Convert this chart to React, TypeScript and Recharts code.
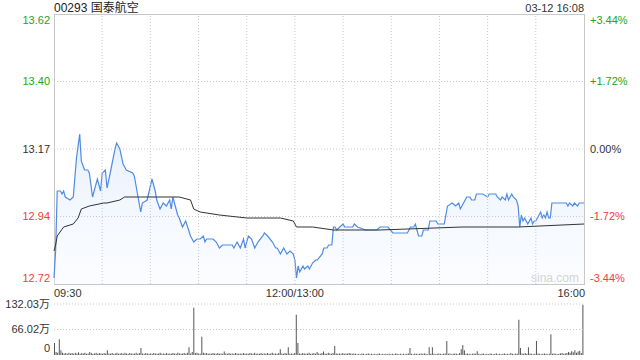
import React from "react";
import {
  ComposedChart,
  BarChart,
  Bar,
  Area,
  Line,
  XAxis,
  YAxis,
  ReferenceLine,
} from "recharts";

// minute index (0 = 09:30, 150 = 12:00/13:00, 330 = 16:00)
const priceTimes = [
  0, 1, 2, 4, 5, 6, 7, 10, 12, 14, 16, 17, 19, 21, 22, 24, 27, 29, 30, 32, 33, 35, 38, 39, 41, 43, 45, 49, 50, 52,
  54, 55, 58, 61, 63, 64, 66, 68, 70, 72, 73, 74, 77, 78, 80, 82, 85, 87, 89, 91, 93, 94, 95, 97, 99, 101, 103, 105,
  111, 112, 114, 116, 118, 119, 121, 123, 125, 127, 130, 131, 133, 136, 138, 139, 141, 143, 144, 145, 147, 149, 150,
  151, 152, 153, 155, 156, 158, 159, 161, 163, 164, 167, 168, 170, 171, 173, 174, 175, 176, 178, 180, 181, 186, 187,
  189, 194, 201, 203, 205, 208, 211, 220, 222, 224, 225, 226, 227, 229, 230, 233, 234, 238, 239, 243, 245, 248, 250,
  252, 253, 254, 256, 257, 259, 260, 262, 263, 267, 270, 271, 275, 276, 278, 279, 281, 282, 283, 285, 286, 288, 289,
  290, 291, 292, 293, 295, 296, 297, 298, 299, 300, 301, 302, 303, 304, 305, 306, 307, 308, 309, 310, 319, 320, 321,
  323, 324, 326, 327, 330,
];
const priceValues = [
  12.74, 12.83, 13.03, 13.03, 13.02, 13.03, 13.01, 13.0, 13.01, 13.14, 13.22, 13.13, 13.1, 13.1, 13.09, 13.01, 13.07,
  13.03, 13.09, 13.1, 13.04, 13.09, 13.17, 13.19, 13.17, 13.12, 13.1, 13.09, 13.08, 13.02,
  12.96, 12.99, 13.0, 13.07, 13.03, 13.0, 12.97, 12.99, 12.98, 13.0, 12.97, 13.01, 12.95, 12.94, 12.91, 12.93, 12.88,
  12.86, 12.87, 12.87, 12.88, 12.86, 12.87, 12.87, 12.87, 12.86, 12.84, 12.85,
  12.85, 12.84, 12.86, 12.84, 12.87, 12.84, 12.88, 12.87, 12.84, 12.86, 12.88, 12.89, 12.88, 12.86, 12.84, 12.84,
  12.82, 12.84, 12.83, 12.82, 12.83, 12.82, 12.8,
  12.74, 12.78, 12.76, 12.78, 12.77, 12.78, 12.77, 12.79, 12.8, 12.8, 12.82, 12.84, 12.84, 12.85, 12.85, 12.91,
  12.91, 12.9, 12.91, 12.92, 12.91, 12.91, 12.92,
  12.91, 12.9, 12.9, 12.91, 12.91, 12.91, 12.89, 12.89, 12.91, 12.91, 12.92, 12.9, 12.88, 12.88, 12.9, 12.9, 12.93,
  12.93, 12.92, 12.92, 12.98, 12.99, 12.98,
  12.99, 12.97, 12.98, 13.0, 13.01, 13.01, 13.0, 13.0, 13.02, 13.02, 13.01, 13.02, 13.02, 13.01, 13.0, 13.01, 13.0,
  13.02, 13.0, 13.02, 13.01, 13.0, 12.98,
  12.91, 12.95, 12.93, 12.94, 12.92, 12.93, 12.94, 12.92, 12.93, 12.93, 12.94, 12.95, 12.96, 12.94, 12.95, 12.94,
  12.96, 12.94, 12.94, 12.99, 12.99, 12.98, 12.99,
  12.98, 12.99, 12.98, 12.99, 12.99,
];

const avgTimes = [0, 1, 2, 6, 12, 15, 17, 22, 31, 33, 41, 44, 54, 78, 85, 87, 91, 103, 120, 141, 149, 151, 161, 174, 203, 254, 289, 330];
const avgValues = [
  12.83, 12.85, 12.88, 12.91, 12.92, 12.94, 12.97, 12.98, 12.99, 12.99, 13.0, 13.01, 13.01, 13.01, 13.0, 12.97,
  12.96, 12.95, 12.94, 12.94, 12.93, 12.91, 12.91, 12.9, 12.9, 12.91, 12.91, 12.92,
];

// volume per minute, in 万
const volumeValues = [
  31, 8, 6, 41, 12, 6, 4, 5, 3, 6,
  4, 5, 3, 6, 4, 7, 3, 5, 4, 6,
  3, 4, 8, 5, 3, 4, 6, 3, 5, 4,
  3, 5, 4, 12, 4, 3, 5, 3, 4, 6,
  3, 4, 5, 3, 6, 4, 3, 5, 4, 3,
  4, 6, 3, 5, 18, 4, 3, 5, 4, 3,
  4, 3, 5, 4, 3, 4, 6, 3, 4, 3,
  5, 3, 4, 3, 5, 4, 3, 6, 4, 3,
  4, 5, 3, 6, 20, 4, 8, 122, 5, 6,
  4, 3, 47, 6, 4, 5, 3, 4, 3, 5,
  4, 3, 5, 3, 4, 3, 9, 4, 3, 5,
  3, 4, 3, 5, 4, 3, 4, 3, 5, 3,
  4, 3, 5, 4, 3, 6, 3, 4, 3, 5,
  3, 4, 3, 5, 3, 4, 6, 3, 4, 3,
  5, 15, 4, 3, 5, 4, 20, 3, 4, 3,
  5, 104, 31, 4, 3, 5, 4, 3, 4, 6,
  3, 4, 5, 3, 8, 4, 3, 5, 9, 4,
  3, 6, 4, 3, 5, 23, 4, 3, 4, 3,
  5, 3, 4, 3, 5, 4, 3, 4, 3, 2,
  3, 2, 4, 3, 2, 3, 4, 2, 3, 2,
  3, 2, 3, 4, 2, 3, 2, 3, 2, 3,
  2, 3, 2, 4, 3, 2, 3, 2, 3, 2,
  3, 4, 18, 3, 2, 4, 3, 2, 3, 4,
  3, 4, 3, 2, 20, 3, 20, 3, 2, 3,
  4, 3, 2, 3, 4, 36, 3, 4, 2, 3,
  4, 3, 2, 5, 15, 26, 12, 3, 4, 3,
  2, 3, 4, 3, 10, 3, 2, 3, 4, 2,
  3, 2, 4, 3, 2, 3, 4, 2, 3, 2,
  3, 4, 2, 3, 2, 5, 3, 2, 4, 3,
  91, 18, 4, 3, 5, 3, 20, 4, 3, 2,
  3, 36, 4, 3, 2, 3, 4, 3, 2, 3,
  54, 3, 4, 3, 2, 3, 4, 5, 3, 4,
  5, 8, 6, 10, 7, 12, 6, 9, 11, 5,
  130,
];

const priceTicks = [12.72, 12.945, 13.17, 13.395, 13.62];
const priceTickLabels = ["12.72", "12.94", "13.17", "13.40", "13.62"];
const pctTicks = [-3.44, -1.72, 0, 1.72, 3.44];
const pctTickLabels = ["-3.44%", "-1.72%", "0.00%", "+1.72%", "+3.44%"];
const tickColors = ["#f03c3c", "#f03c3c", "#333333", "#1aa51a", "#1aa51a"];
const timeTicks = [0, 150, 330];
const timeTickLabels = ["09:30", "12:00/13:00", "16:00"];
const gridMinutes = [30, 60, 90, 120, 150, 180, 210, 240, 270, 300];
const volTicks = [0, 66.02, 132.03];
const volTickLabels = ["0", "66.02万", "132.03万"];

const title = "00293 国泰航空";
const stamp = "03-12 16:08";
const watermark = "sina.com";

type Row = { t: number; price?: number; avg?: number };
const rowMap = new Map<number, Row>();
priceTimes.forEach((t, i) => {
  const r = rowMap.get(t) || { t };
  r.price = priceValues[i];
  rowMap.set(t, r);
});
avgTimes.forEach((t, i) => {
  const r = rowMap.get(t) || { t };
  r.avg = avgValues[i];
  rowMap.set(t, r);
});
const mainData = Array.from(rowMap.values()).sort((a, b) => a.t - b.t);
const volData = volumeValues.map((v, i) => ({ m: i, v }));

const FONT = "Arial, 'Liberation Sans', 'Noto Sans CJK SC', sans-serif";

const LeftTick = (props: any) => {
  const { y, payload } = props;
  const idx = priceTicks.indexOf(payload.value);
  const dy = idx === 0 ? -6 : idx === priceTicks.length - 1 ? 6 : 0;
  return (
    <text x={50} y={y + dy} dy="0.35em" textAnchor="end" fontSize={11} fontFamily={FONT} fill={tickColors[idx]}>
      {priceTickLabels[idx]}
    </text>
  );
};

const RightTick = (props: any) => {
  const { y, payload } = props;
  const idx = pctTicks.indexOf(payload.value);
  const dy = idx === 0 ? -6 : idx === pctTicks.length - 1 ? 6 : 0;
  return (
    <text x={590} y={y + dy} dy="0.35em" textAnchor="start" fontSize={11} fontFamily={FONT} fill={tickColors[idx]}>
      {pctTickLabels[idx]}
    </text>
  );
};

const TimeTick = (props: any) => {
  const { x, payload } = props;
  const idx = timeTicks.indexOf(payload.value);
  const anchor = idx === 0 ? "start" : idx === timeTicks.length - 1 ? "end" : "middle";
  const dx = idx === timeTicks.length - 1 ? 1 : 0;
  return (
    <text x={x + dx} y={293} dy="0.35em" textAnchor={anchor} fontSize={11} fontFamily={FONT} fill="#333">
      {timeTickLabels[idx]}
    </text>
  );
};

const VolTick = (props: any) => {
  const { y, payload } = props;
  const idx = volTicks.indexOf(payload.value);
  const dy = idx === 0 ? -7 : 0;
  return (
    <text x={50} y={y + dy} dy="0.35em" textAnchor="end" fontSize={11} fontFamily={FONT} fill="#333">
      {volTickLabels[idx]}
    </text>
  );
};

export default function App() {
  return (
    <div
      style={{
        position: "absolute",
        left: 0,
        top: 0,
        width: 640,
        height: 360,
        background: "#fff",
        fontFamily: FONT,
        overflow: "hidden",
      }}
    >
      <div style={{ position: "absolute", left: 54, top: 0, fontSize: 12, lineHeight: "16px", color: "#222" }}>{title}</div>
      <div
        style={{ position: "absolute", right: 56, top: 0, fontSize: 11, lineHeight: "16px", color: "#333", textAlign: "right" }}
      >
        {stamp}
      </div>
      <div
        style={{
          position: "absolute",
          left: 54,
          top: 14,
          width: 529,
          height: 269,
          border: "1px solid #c8c8c8",
        }}
      />
      <div style={{ position: "absolute", left: 0, top: 0 }}>
        <ComposedChart width={640} height={300} data={mainData} margin={{ top: 14, right: 0, bottom: 0, left: 0 }}>
          <defs>
            <linearGradient id="priceFill" x1="0" y1="0" x2="0" y2="1">
              <stop offset="0%" stopColor="#d6e4fa" stopOpacity={0.9} />
              <stop offset="100%" stopColor="#f4f8ff" stopOpacity={0.6} />
            </linearGradient>
          </defs>
          <XAxis
            type="number"
            dataKey="t"
            domain={[0, 330]}
            ticks={timeTicks}
            tick={<TimeTick />}
            axisLine={false}
            tickLine={false}
            height={16}
            interval={0}
          />
          <YAxis
            yAxisId="left"
            domain={[12.72, 13.62]}
            ticks={priceTicks}
            tick={<LeftTick />}
            axisLine={false}
            tickLine={false}
            width={54}
            interval={0}
            allowDataOverflow
          />
          <YAxis
            yAxisId="right"
            orientation="right"
            domain={[-3.44, 3.44]}
            ticks={pctTicks}
            tick={<RightTick />}
            axisLine={false}
            tickLine={false}
            width={56}
            interval={0}
            allowDataOverflow
          />
          {gridMinutes.map((m) => (
            <ReferenceLine key={"vx" + m} x={m} yAxisId="left" stroke="#c8c8c8" strokeDasharray="1 2" />
          ))}
          {priceTicks.slice(1, 4).map((p) => (
            <ReferenceLine key={"hy" + p} y={p} yAxisId="left" stroke="#c8c8c8" strokeDasharray="1 2" />
          ))}
          <Area
            yAxisId="left"
            type="linear"
            dataKey="price"
            stroke="#4f8be6"
            strokeWidth={1.2}
            fill="url(#priceFill)"
            connectNulls
            dot={false}
            activeDot={false}
            isAnimationActive={false}
            baseValue={12.72}
          />
          <Line
            yAxisId="left"
            type="linear"
            dataKey="avg"
            stroke="#333"
            strokeWidth={1}
            connectNulls
            dot={false}
            activeDot={false}
            isAnimationActive={false}
          />
        </ComposedChart>
      </div>
      <div
        style={{ position: "absolute", left: 531, top: 270, fontSize: 12, lineHeight: "16px", color: "#d4d4d4" }}
      >
        {watermark}
      </div>
      <div style={{ position: "absolute", left: 0, top: 290 }}>
        <BarChart width={640} height={70} data={volData} margin={{ top: 14, right: 56, bottom: 5, left: 0 }} barCategoryGap={0}>
          <XAxis dataKey="m" hide />
          <YAxis
            domain={[0, 132.03]}
            ticks={volTicks}
            tick={<VolTick />}
            axisLine={false}
            tickLine={false}
            width={54}
            interval={0}
            allowDataOverflow
          />
          {volTicks.slice(1).map((v) => (
            <ReferenceLine key={"vy" + v} y={v} stroke="#c8c8c8" strokeDasharray="1 2" />
          ))}
          <Bar dataKey="v" fill="#555" barSize={1} isAnimationActive={false} />
        </BarChart>
      </div>
    </div>
  );
}
